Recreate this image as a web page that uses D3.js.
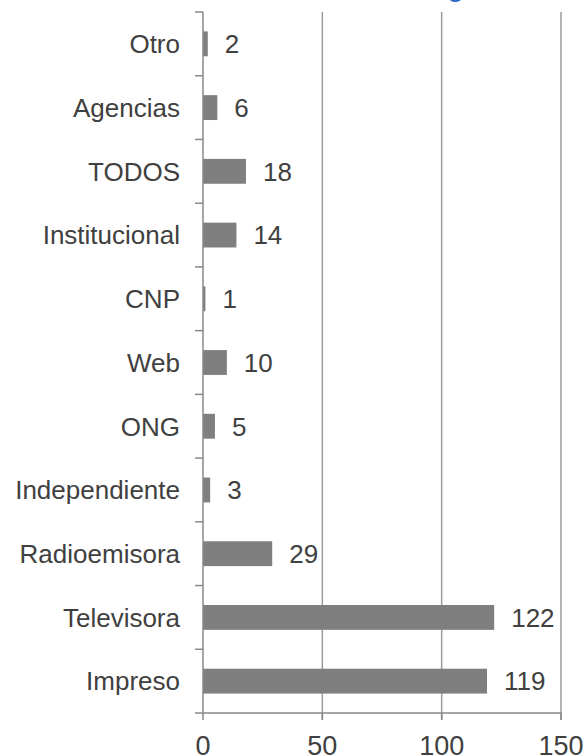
<!DOCTYPE html>
<html>
<head>
<meta charset="utf-8">
<script src="https://cdn.jsdelivr.net/npm/d3@7"></script>
<style>
html,body{margin:0;padding:0;background:#fff;}
svg{display:block;}
</style>
</head>
<body>
<svg id="chart" width="585" height="756"></svg>
<script>
const categories = ["Otro","Agencias","TODOS","Institucional","CNP","Web","ONG","Independiente","Radioemisora","Televisora","Impreso"];
const values = [2,6,18,14,1,10,5,3,29,122,119];
const xTicks = [0,50,100,150];
const titleText = "Ranking";

(function(){
const svg = d3.select("#chart");
const pLeft = 203, pRight = 561, pTop = 12, pBottom = 713;
const font = "'Liberation Sans', Arial, sans-serif";
const textColor = "#404040";

const x = d3.scaleLinear().domain([0,150]).range([pLeft,pRight]);
const y = d3.scaleBand().domain(categories).range([pTop,pBottom]).paddingInner(0.61).paddingOuter(0.305);
const yb = d3.scaleBand().domain(categories).range([pTop,pBottom]);

// title (mostly cut off above, as in the reference)
svg.append("text").attr("x",464).attr("y",-4).attr("text-anchor","end")
  .attr("font-family",font).attr("font-size",30).attr("fill","#2e6bc6").text(titleText);

// gridlines
svg.append("g").selectAll("line").data(xTicks.filter(d=>d>0)).join("line")
  .attr("x1",d=>x(d)).attr("x2",d=>x(d)).attr("y1",pTop).attr("y2",pBottom+7)
  .attr("stroke","#9a9a9a").attr("stroke-width",1.5);

// bars
svg.append("g").selectAll("rect").data(categories).join("rect")
  .attr("x",x(0)).attr("y",d=>y(d))
  .attr("width",(d,i)=>x(values[i])-x(0)).attr("height",y.bandwidth())
  .attr("fill","#7f7f7f");

// y axis line and ticks
svg.append("line").attr("x1",pLeft).attr("x2",pLeft).attr("y1",pTop).attr("y2",pBottom)
  .attr("stroke","#888").attr("stroke-width",1.5);
const bounds = categories.map(c=>yb(c)).concat([pBottom]);
svg.append("g").selectAll("line").data(bounds).join("line")
  .attr("x1",pLeft-8).attr("x2",pLeft).attr("y1",d=>d).attr("y2",d=>d)
  .attr("stroke","#888").attr("stroke-width",1.5);

// x axis line and ticks
svg.append("line").attr("x1",pLeft).attr("x2",pRight).attr("y1",pBottom).attr("y2",pBottom)
  .attr("stroke","#888").attr("stroke-width",1.5);
svg.append("g").selectAll("line").data(xTicks).join("line")
  .attr("x1",d=>x(d)).attr("x2",d=>x(d)).attr("y1",pBottom).attr("y2",pBottom+7)
  .attr("stroke","#888").attr("stroke-width",1.5);

// x tick labels
svg.append("g").selectAll("text").data(xTicks).join("text")
  .attr("x",d=>x(d)).attr("y",755).attr("text-anchor","middle")
  .attr("font-family",font).attr("font-size",27).attr("fill",textColor).text(d=>d);

// category labels
svg.append("g").selectAll("text").data(categories).join("text")
  .attr("x",180).attr("y",d=>y(d)+y.bandwidth()/2).attr("dy","0.36em").attr("text-anchor","end")
  .attr("font-family",font).attr("font-size",26).attr("fill",textColor).text(d=>d);

// value labels
svg.append("g").selectAll("text").data(categories).join("text")
  .attr("x",(d,i)=>x(values[i])+17).attr("y",d=>y(d)+y.bandwidth()/2).attr("dy","0.36em")
  .attr("font-family",font).attr("font-size",26).attr("fill",textColor).text((d,i)=>values[i]);
})();
</script>
</body>
</html>
